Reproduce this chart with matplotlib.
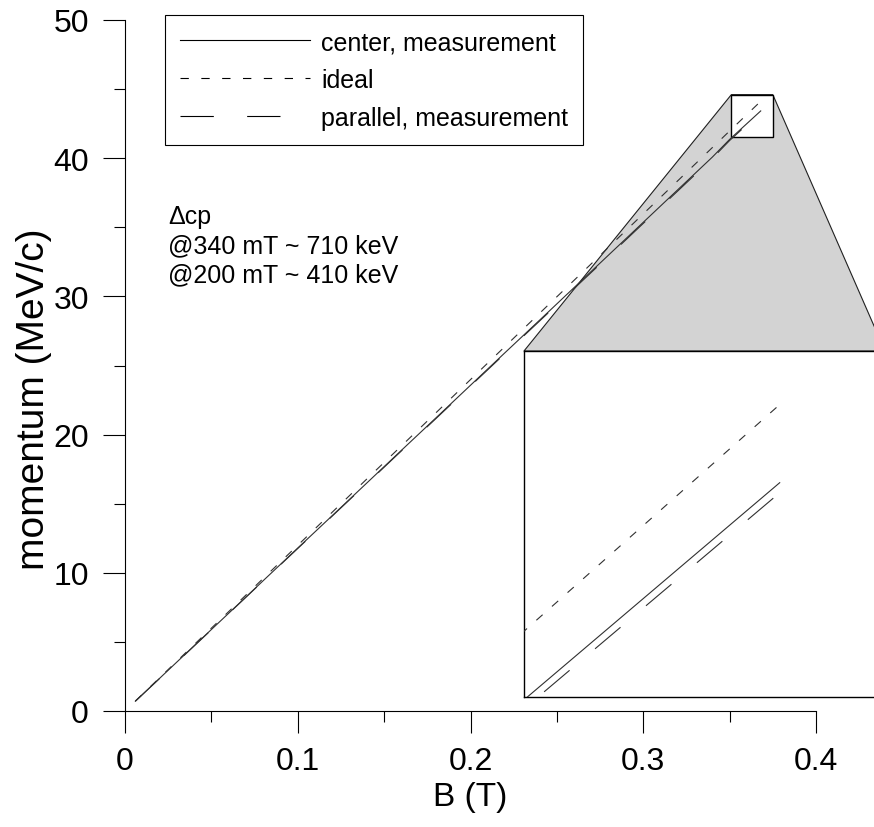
import matplotlib
matplotlib.use('Agg')
import matplotlib.pyplot as plt
from matplotlib.patches import Polygon, Rectangle
from matplotlib.ticker import MultipleLocator

# 数据
B_T = [0.006, 0.02, 0.04, 0.06, 0.08, 0.10, 0.12, 0.14, 0.16, 0.18, 0.20,
       0.22, 0.24, 0.26, 0.28, 0.30, 0.32, 0.34, 0.35, 0.368]
p_ideal = [0.72, 2.40, 4.80, 7.19, 9.59, 11.99, 14.39, 16.79, 19.18, 21.58, 23.98,
           26.38, 28.78, 31.17, 33.57, 35.97, 38.37, 40.77, 41.97, 44.12]
p_center = [0.71, 2.36, 4.72, 7.07, 9.43, 11.79, 14.14, 16.50, 18.86, 21.21, 23.57,
            25.93, 28.28, 30.64, 33.00, 35.36, 37.72, 40.08, 41.36, 43.42]
p_parallel = [0.71, 2.35, 4.70, 7.05, 9.41, 11.76, 14.11, 16.46, 18.82, 21.16, 23.52,
              25.87, 28.22, 30.57, 32.92, 35.28, 37.63, 39.99, 41.28, 43.33]
labels = ['center, measurement', 'ideal', 'parallel, measurement']
tick_labels_x = ['0', '0.1', '0.2', '0.3', '0.4']
zoom_x = (0.351, 0.375)
zoom_y = (41.5, 44.6)
note_lines = ['\u0394cp', '@340 mT ~ 710 keV', '@200 mT ~ 410 keV']

plt.rcParams['font.family'] = ['Liberation Sans', 'DejaVu Sans']
plt.rcParams['lines.scale_dashes'] = False

W, H = 874, 828
fig = plt.figure(figsize=(W / 100, H / 100), dpi=100)
ax = fig.add_axes([125 / W, 116 / H, 691 / W, 691 / H])
ax.set_facecolor('none')

lc = '#303030'
styles = ['-', (0, (6, 9)), (0, (24, 24))]
series = [p_center, p_ideal, p_parallel]


def draw_lines(a, lw):
    for s, ls, lab in zip(series, styles, labels):
        a.plot(B_T, s, color=lc, linestyle=ls, linewidth=lw, label=lab, zorder=3)


draw_lines(ax, 0.8)

ax.set_xlim(0, 0.4)
ax.set_ylim(0, 50)
ax.set_xticks([0, 0.1, 0.2, 0.3, 0.4])
ax.set_xticklabels(tick_labels_x)
ax.xaxis.set_minor_locator(MultipleLocator(0.05))
ax.yaxis.set_major_locator(MultipleLocator(10))
ax.yaxis.set_minor_locator(MultipleLocator(5))
ax.tick_params(which='major', direction='out', length=16, width=0.8, labelsize=23)
ax.tick_params(axis='x', which='major', pad=9)
ax.tick_params(axis='y', which='major', pad=10)
ax.tick_params(which='minor', direction='out', length=8, width=0.8)
for side in ['top', 'right']:
    ax.spines[side].set_visible(False)
for side in ['left', 'bottom']:
    ax.spines[side].set_linewidth(0.8)
ax.set_xlabel('B (T)', fontsize=24)
ax.set_ylabel('momentum (MeV/c)', fontsize=28)
ax.xaxis.set_label_coords(0.5, -0.102)
ax.yaxis.set_label_coords(-0.106, 0.452)

leg = ax.legend(loc='upper left', bbox_to_anchor=(0.058, 1.007), borderaxespad=0,
                fontsize=18, handlelength=5.2, handletextpad=0.45, labelspacing=0.55,
                borderpad=0.6, frameon=True, fancybox=False, framealpha=1)
leg.get_frame().set_edgecolor('black')
leg.get_frame().set_linewidth(0.8)
for h in leg.get_lines():
    h.set_color('black')

for i, t in enumerate(note_lines):
    ax.text(0.025, 35.3 - i * 2.1, t, fontsize=18, va='baseline', ha='left')

# 放大框
rect = Rectangle((zoom_x[0], zoom_y[0]), zoom_x[1] - zoom_x[0], zoom_y[1] - zoom_y[0],
                 facecolor='white', edgecolor='black', linewidth=1.0, zorder=2)
ax.add_patch(rect)

ins = fig.add_axes([524 / W, 130 / H, 361 / W, 346 / H])
draw_lines(ins, 0.8)
ins.set_xlim(*zoom_x)
ins.set_ylim(*zoom_y)
ins.set_xticks([])
ins.set_yticks([])
for sp in ins.spines.values():
    sp.set_linewidth(1.0)

# 灰色连接区域
to_fig = fig.transFigure.inverted()
p1 = to_fig.transform(ax.transData.transform((zoom_x[0], zoom_y[1])))
p2 = to_fig.transform(ax.transData.transform((zoom_x[1], zoom_y[1])))
p3 = to_fig.transform(ins.transAxes.transform((1, 1)))
p4 = to_fig.transform(ins.transAxes.transform((0, 1)))
poly = Polygon([p1, p2, p3, p4], closed=True, transform=fig.transFigure,
               facecolor='#d3d3d3', edgecolor='#202020', linewidth=0.8, zorder=-1)
fig.patches.append(poly)

fig.savefig('out.png', dpi=100)
